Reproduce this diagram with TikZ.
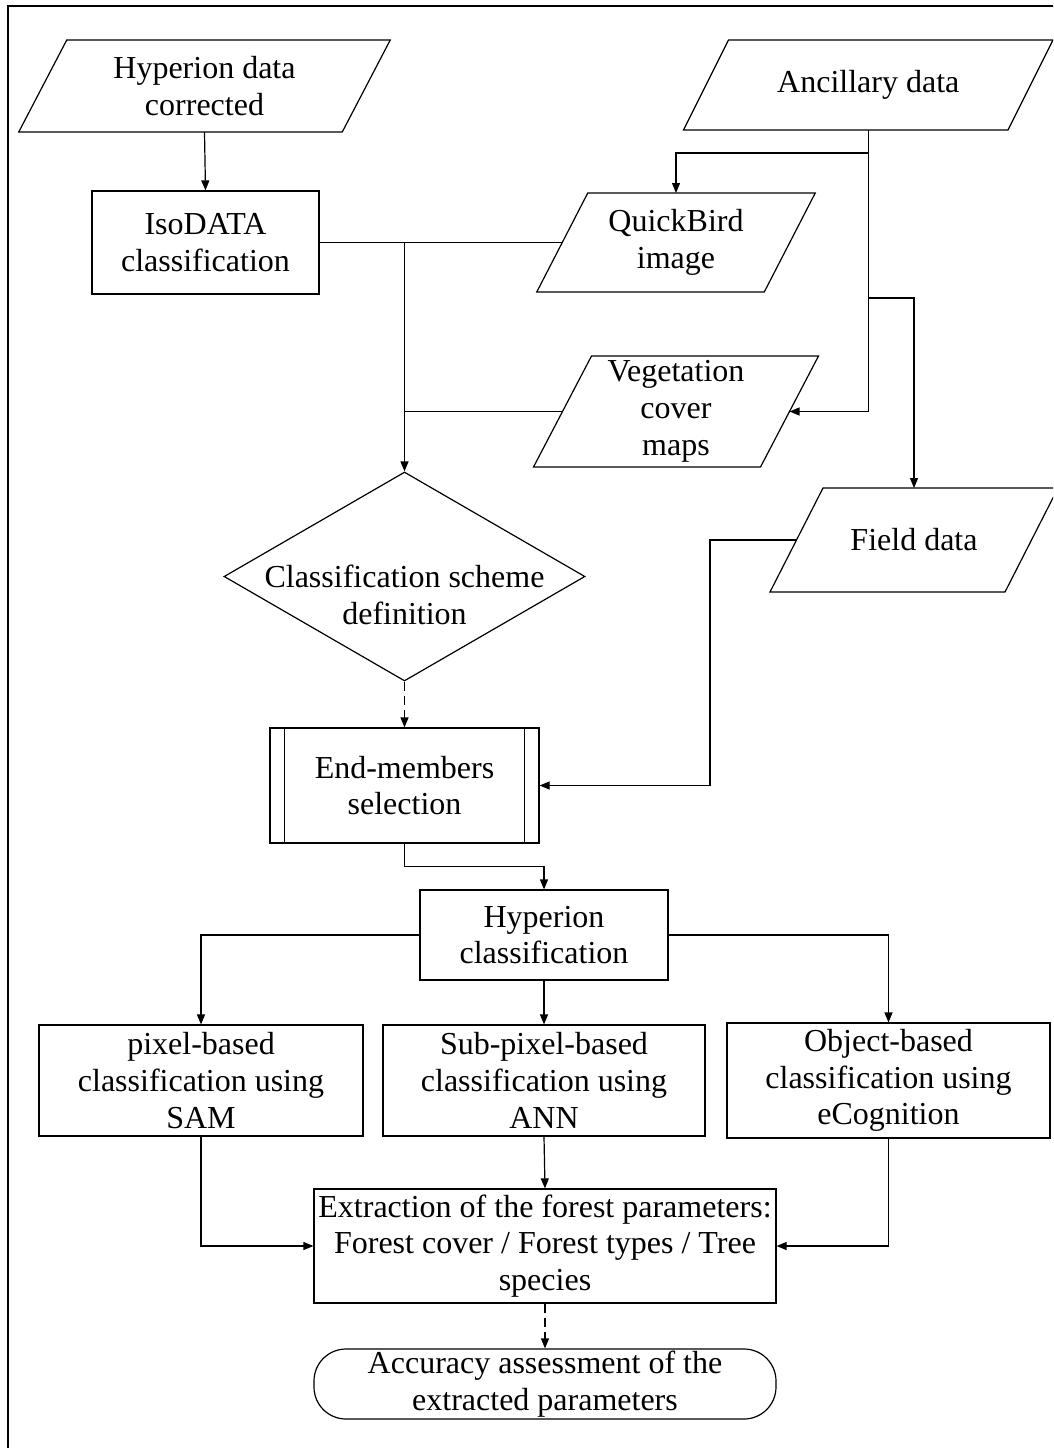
\documentclass[tikz,border=0pt]{standalone}
\usepackage{fontspec}
\setmainfont{Liberation Serif}
\usetikzlibrary{arrows.meta,shapes.geometric,calc}

% parallelogram data box: name, cx, cy, body width, height, slant, text
\newcommand\databox[7]{%
  \draw[shapeline] ({#2-#4/2+#6/2},{#3-#5/2}) -- ({#2+#4/2+#6/2},{#3-#5/2})
     -- ({#2+#4/2-#6/2},{#3+#5/2}) -- ({#2-#4/2-#6/2},{#3+#5/2}) -- cycle;
  \node[labeltext] (#1) at (#2,#3) {#7};
  \coordinate (#1-t) at (#2,{#3-#5/2});
  \coordinate (#1-b) at (#2,{#3+#5/2});
  \coordinate (#1-l) at ({#2-#4/2},#3);
  \coordinate (#1-r) at ({#2+#4/2},#3);
}

\tikzset{
  shapeline/.style={draw=black, line width=1.2pt},
  labeltext/.style={align=center, inner sep=0pt,
    font=\fontsize{32pt}{36.8pt}\selectfont},
  procbox/.style={shapeline, labeltext, rectangle},
  link/.style={draw=black, line width=1.2pt},
  arrowlink/.style={link, -{Triangle[length=10pt,width=8pt]}},
  dashlink/.style={arrowlink, dash pattern=on 9pt off 5pt},
}

\begin{document}
\begin{tikzpicture}[x=1pt,y=-1pt]
\useasboundingbox (0,0) rectangle (1053,1448);
\clip (0,0) rectangle (1053,1448);
\fill[white] (0,0) rectangle (1053,1448);

% outer frame (right and bottom sides run off the page)
\draw[line width=2.2pt] (8,1470) -- (8,6) -- (1080,6);

% input data
\databox{hypdata}{204.5}{86}{323.5}{92}{48}{Hyperion data\\corrected}
\databox{ancil}{868.25}{85}{324.5}{90}{45}{Ancillary data}
\databox{qbird}{676}{242.5}{227.5}{99}{51}{QuickBird\\image}
\databox{veg}{676}{411.5}{227}{111}{58}{Vegetation\\cover\\maps}
\databox{field}{914}{540}{235}{104}{53}{Field data}

% processing steps
\node[procbox, minimum width=227pt, minimum height=103pt] (iso) at (205.5,242.5)
  {IsoDATA\\classification};

\node[diamond, shapeline, minimum width=361pt, minimum height=209pt, inner sep=0pt]
  (scheme) at (404.5,576.5) {};
\node[labeltext] (schemetext) at (404.5,595) {Classification scheme\\definition};

\node[procbox, minimum width=269pt, minimum height=115pt] (endm) at (404.5,785.5)
  {End-members\\selection};
\draw[shapeline] ([xshift=15pt]endm.north west) -- ([xshift=15pt]endm.south west);
\draw[shapeline] ([xshift=-15pt]endm.north east) -- ([xshift=-15pt]endm.south east);

\node[procbox, minimum width=248pt, minimum height=90pt] (hclass) at (544,935)
  {Hyperion\\classification};

\node[procbox, minimum width=324pt, minimum height=111pt] (sam) at (201,1080.5)
  {pixel-based\\classification using\\SAM};
\node[procbox, minimum width=322pt, minimum height=111pt] (ann) at (544,1080.5)
  {Sub-pixel-based\\classification using\\ANN};
\node[procbox, minimum width=323pt, minimum height=115pt] (ecog) at (888.5,1080.5)
  {Object-based\\classification using\\eCognition};

\node[procbox, minimum width=462pt, minimum height=114pt] (extr) at (545,1246)
  {Extraction of the forest parameters:\\Forest cover / Forest types / Tree\\species};

\node[procbox, rounded corners=32pt, minimum width=462pt, minimum height=70pt]
  (accu) at (545,1384)
  {Accuracy assessment of the\\extracted parameters};

% connectors
\draw[arrowlink] (hypdata-b) -- (iso.north);

\coordinate (isojoin) at (iso.east -| scheme.north);
\draw[link] (iso.east) -- (qbird-l);
\draw[link] (veg-l) -- (veg-l -| scheme.north);
\draw[arrowlink] (isojoin) -- (scheme.north);

\coordinate (ancqb) at ($(ancil-b)+(0,23)$);
\coordinate (ancfd) at ($(ancil-b)+(0,168)$);
\draw[arrowlink] (ancil-b) |- (veg-r);
\draw[arrowlink] (ancqb) -| (qbird-t);
\draw[arrowlink] (ancfd) -| (field-t);

\coordinate (fieldbend) at (710,540);
\draw[arrowlink] (field-l) -- (fieldbend) |- (endm.east);

\draw[dashlink] (scheme.south) -- (endm.north);

\coordinate (endmbend) at ($(endm.south)+(0,23)$);
\draw[arrowlink] (endm.south) -- (endmbend) -| (hclass.north);

\draw[arrowlink] (hclass.west) -| (sam.north);
\draw[arrowlink] (hclass.south) -- (ann.north);
\draw[arrowlink] (hclass.east) -| (ecog.north);

\draw[arrowlink] (sam.south) |- (extr.west);
\draw[arrowlink] (ann.south) -- (extr.north);
\draw[arrowlink] (ecog.south) |- (extr.east);

\draw[dashlink] (extr.south) -- (accu.north);
\end{tikzpicture}
\end{document}
